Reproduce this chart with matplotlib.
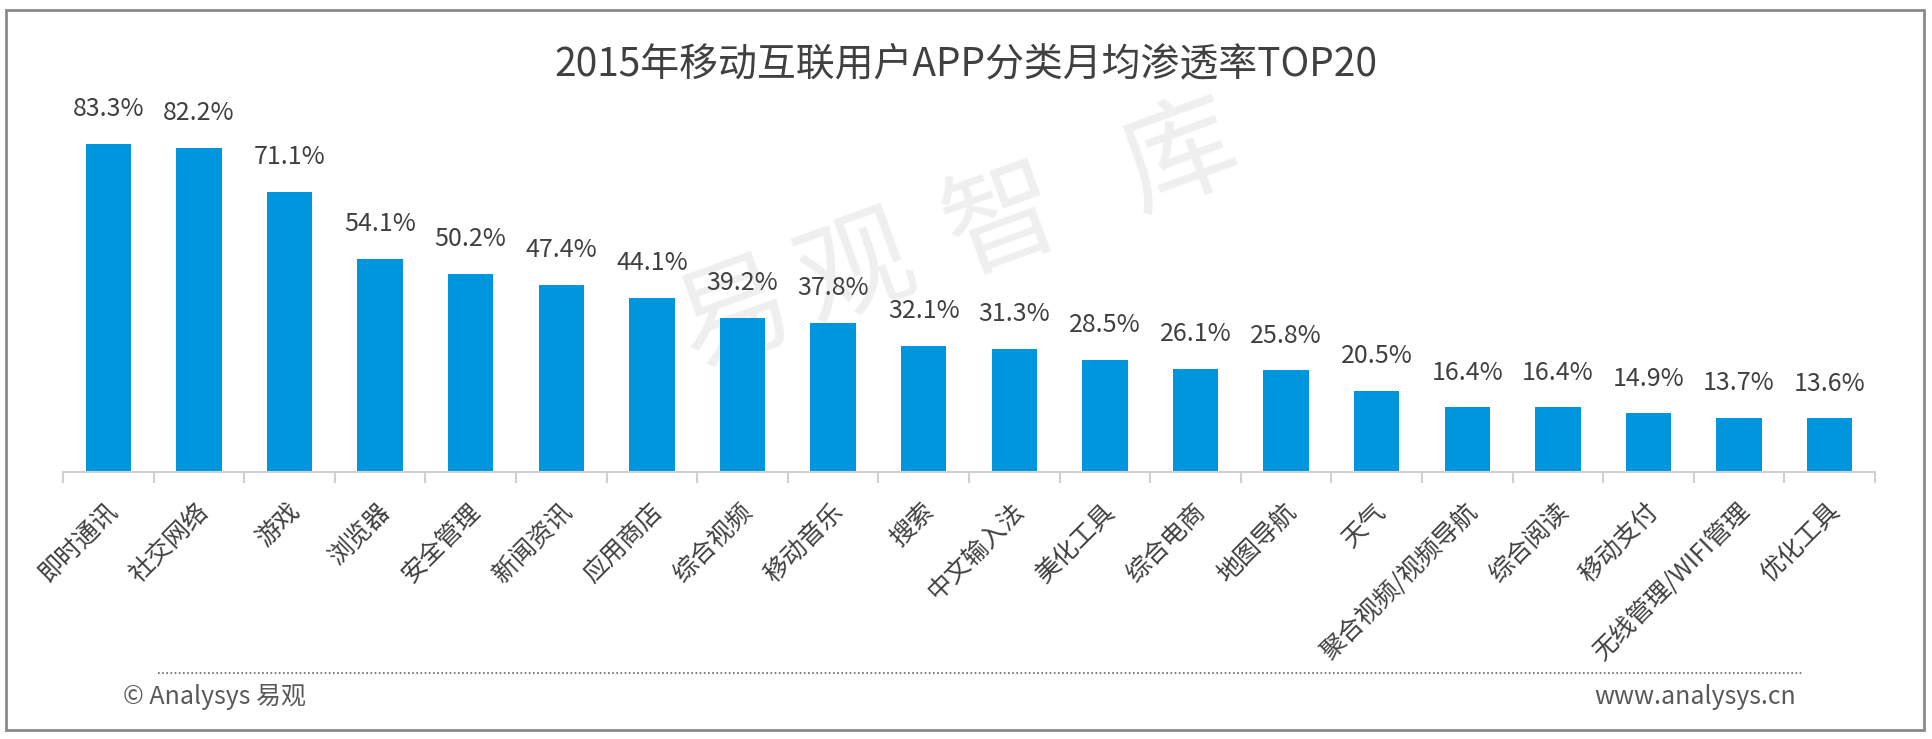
import matplotlib
matplotlib.use("Agg")
import matplotlib.pyplot as plt
from matplotlib.patches import Rectangle
from matplotlib.lines import Line2D
from matplotlib.transforms import ScaledTranslation

plt.rcParams['font.family'] = ['Noto Sans CJK SC', 'DejaVu Sans']

categories = ["即时通讯", "社交网络", "游戏", "浏览器", "安全管理", "新闻资讯", "应用商店",
              "综合视频", "移动音乐", "搜索", "中文输入法", "美化工具", "综合电商", "地图导航",
              "天气", "聚合视频/视频导航", "综合阅读", "移动支付", "无线管理/WIFI管理", "优化工具"]
values = [83.3, 82.2, 71.1, 54.1, 50.2, 47.4, 44.1, 39.2, 37.8, 32.1, 31.3, 28.5, 26.1, 25.8,
          20.5, 16.4, 16.4, 14.9, 13.7, 13.6]
title = "2015年移动互联用户APP分类月均渗透率TOP20"
watermark = ["易", "观", "智", "库"]
footer_left = "© Analysys 易观"
footer_right = "www.analysys.cn"

W, H = 1933, 739
fig = plt.figure(figsize=(W / 100, H / 100), dpi=100)
text_color = "#404040"
bar_color = "#0096DE"

# watermark behind everything
wm_pos = [(735, 316), (856, 271), (1003, 222), (1180, 158)]
for ch, (px, py) in zip(watermark, wm_pos):
    fig.text(px / W, 1 - py / H, ch, fontsize=82, color="#efefef", rotation=20,
             fontweight="light", ha="center", va="center", zorder=-1)

ax = fig.add_axes([63 / W, 1 - 472 / H, (1875 - 63) / W, 394 / H])
ax.patch.set_visible(False)
x = list(range(len(categories)))
bars = ax.bar(x, values, width=0.5, color=bar_color, zorder=2)
ax.set_xlim(-0.5, len(categories) - 0.5)
ax.set_ylim(0, 100)

for xi, v in zip(x, values):
    ax.annotate(f"{v:.1f}%", (xi, v), xytext=(0, 20), textcoords="offset points",
                ha="center", va="baseline", fontsize=18, color=text_color)

for s in ["top", "right", "left"]:
    ax.spines[s].set_visible(False)
ax.spines["bottom"].set_color("#d0d0d0")
ax.spines["bottom"].set_linewidth(1.5)
ax.set_yticks([])
ax.set_xticks(x)
ax.set_xticklabels(categories, rotation=45, ha="right", rotation_mode="anchor",
                   fontsize=18, color=text_color)
ax.tick_params(axis="x", length=0, pad=19)
shift = ScaledTranslation(-3 / 100, 0, fig.dpi_scale_trans)
for lbl in ax.get_xticklabels():
    lbl.set_transform(lbl.get_transform() + shift)
# boundary tick marks
ax.set_xticks([i - 0.5 for i in range(len(categories) + 1)], minor=True)
ax.tick_params(axis="x", which="minor", length=8, color="#d0d0d0", width=1.5)

fig.text(966 / W, 1 - 64 / H, title, fontsize=28, color=text_color, ha="center", va="center")

# footer
fig.add_artist(Line2D([158 / W, 1803 / W], [1 - 673 / H, 1 - 673 / H], color="#808080",
                      linewidth=1.5, linestyle=(0, (0.8, 1.2))))
fig.text(123 / W, 1 - 697 / H, footer_left, fontsize=18, color="#595959", ha="left", va="center")
fig.text(1796 / W, 1 - 697 / H, footer_right, fontsize=18, color="#595959", ha="right", va="center")

# border
fig.add_artist(Rectangle((6 / W, 1 - 730 / H), (1924 - 6) / W, (730 - 10) / H,
                         fill=False, edgecolor="#8a8a8a", linewidth=2, transform=fig.transFigure))

fig.savefig("out.png", dpi=100)
